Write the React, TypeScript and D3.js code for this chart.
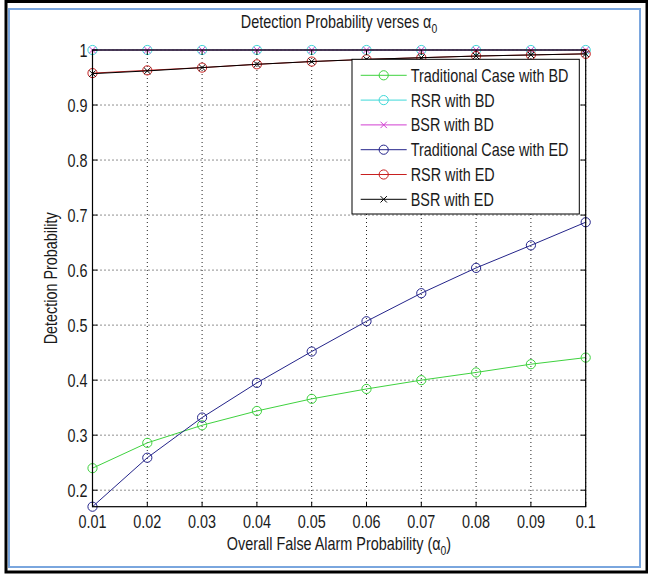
import React from "react";
import * as d3 from "d3";

const alphaValues = [0.01, 0.02, 0.03, 0.04, 0.05, 0.06, 0.07, 0.08, 0.09, 0.1];
const tradBD = [0.24, 0.286, 0.318, 0.344, 0.366, 0.384, 0.4, 0.414, 0.429, 0.441];
const rsrBD = [1, 1, 1, 1, 1, 1, 1, 1, 1, 1];
const bsrBD = [1, 1, 1, 1, 1, 1, 1, 1, 1, 1];
const tradED = [0.17, 0.259, 0.332, 0.395, 0.452, 0.507, 0.558, 0.604, 0.645, 0.687];
const rsrED = [0.958, 0.963, 0.968, 0.974, 0.979, 0.983, 0.986, 0.989, 0.991, 0.993];
const bsrED = [0.957, 0.962, 0.968, 0.974, 0.979, 0.983, 0.986, 0.989, 0.991, 0.993];

const xTicks = [0.01, 0.02, 0.03, 0.04, 0.05, 0.06, 0.07, 0.08, 0.09, 0.1];
const xTickLabels = ["0.01", "0.02", "0.03", "0.04", "0.05", "0.06", "0.07", "0.08", "0.09", "0.1"];
const yTicks = [0.2, 0.3, 0.4, 0.5, 0.6, 0.7, 0.8, 0.9, 1];
const yTickLabels = ["0.2", "0.3", "0.4", "0.5", "0.6", "0.7", "0.8", "0.9", "1"];

const seriesNames = [
  "Traditional Case with BD",
  "RSR with BD",
  "BSR with BD",
  "Traditional Case with ED",
  "RSR with ED",
  "BSR with ED",
];
const seriesData = [tradBD, rsrBD, bsrBD, tradED, rsrED, bsrED];
const seriesColors = ["#3fd23f", "#3fd8d8", "#d23fd2", "#24248a", "#c82020", "#000000"];
const seriesMarkers = ["o", "o", "x", "o", "o", "x"];

const FONT = "'Liberation Sans', Arial, sans-serif";
const SX = 0.8;

const W = 648;
const H = 574;
const L = 92.5;
const R = 585.7;
const T = 50;
const B = 506.7;

function NText({
  x,
  y,
  rotate = 0,
  anchor = "start",
  size = 18,
  children,
}: {
  x: number;
  y: number;
  rotate?: number;
  anchor?: string;
  size?: number;
  children: React.ReactNode;
}) {
  return (
    <text
      transform={`translate(${x},${y}) rotate(${rotate}) scale(${SX},1)`}
      fontSize={size}
      textAnchor={anchor as any}
      fill="#1a1a1a"
    >
      {children}
    </text>
  );
}

function Marker({ type, x, y, color }: { type: string; x: number; y: number; color: string }) {
  if (type === "o") {
    return <circle cx={x} cy={y} r={4.6} fill="none" stroke={color} strokeWidth={1} />;
  }
  const s = 3.2;
  return (
    <path
      d={`M${x - s},${y - s}L${x + s},${y + s}M${x - s},${y + s}L${x + s},${y - s}`}
      stroke={color}
      strokeWidth={1}
      fill="none"
    />
  );
}

export default function App() {
  const x = d3.scaleLinear().domain([0.01, 0.1]).range([L, R]);
  const y = d3.scaleLinear().domain([0.17, 1]).range([B, T]);
  const line = d3
    .line<number>()
    .x((_, i) => x(alphaValues[i]))
    .y((d) => y(d));

  const legX = 352;
  const legY = 59.3;
  const legW = 227.3;
  const legH = 154.7;
  const legStep = 24.8;

  return (
    <svg
      width={W}
      height={H}
      style={{ position: "absolute", left: 0, top: 0, background: "#fff" }}
      fontFamily={FONT}
    >
      <rect x={0} y={0} width={W} height={H} fill="#fff" />
      {/* frames */}
      <rect x={6} y={1.5} width={641} height={570.5} fill="none" stroke="#000" strokeWidth={3} />
      <rect x={9} y={9} width={631} height={558} fill="none" stroke="#7aa6de" strokeWidth={2} />

      {/* grid */}
      {xTicks.map((t, i) => (
        <line key={"gx" + i} x1={x(t)} x2={x(t)} y1={T} y2={B} stroke="#222" strokeWidth={1} strokeDasharray="1 3" />
      ))}
      {yTicks.map((t, i) => (
        <line key={"gy" + i} x1={L} x2={R} y1={y(t)} y2={y(t)} stroke="#222" strokeWidth={1} strokeDasharray="1 3" />
      ))}

      {/* series */}
      {seriesData.map((d, si) => (
        <g key={"s" + si}>
          <path d={line(d) || ""} fill="none" stroke={seriesColors[si]} strokeWidth={1} />
          {d.map((v, i) => (
            <Marker key={i} type={seriesMarkers[si]} x={x(alphaValues[i])} y={y(v)} color={seriesColors[si]} />
          ))}
        </g>
      ))}

      {/* axes box */}
      <rect x={L} y={T} width={R - L} height={B - T} fill="none" stroke="#000" strokeWidth={1.2} />
      {xTicks.map((t, i) => (
        <g key={"tx" + i}>
          <line x1={x(t)} x2={x(t)} y1={B} y2={B - 5} stroke="#000" />
          <line x1={x(t)} x2={x(t)} y1={T} y2={T + 5} stroke="#000" />
          <NText x={x(t)} y={B + 21} anchor="middle">
            {xTickLabels[i]}
          </NText>
        </g>
      ))}
      {yTicks.map((t, i) => (
        <g key={"ty" + i}>
          <line x1={L} x2={L + 5} y1={y(t)} y2={y(t)} stroke="#000" />
          <line x1={R} x2={R - 5} y1={y(t)} y2={y(t)} stroke="#000" />
          <NText x={L - 5} y={y(t) + 6.5} anchor="end">
            {yTickLabels[i]}
          </NText>
        </g>
      ))}

      {/* legend */}
      <rect x={legX} y={legY} width={legW} height={legH} fill="#fff" stroke="#000" strokeWidth={1} />
      {seriesNames.map((n, i) => {
        const ly = legY + 16 + i * legStep;
        return (
          <g key={"l" + i}>
            <line x1={legX + 8.7} x2={legX + 54.7} y1={ly} y2={ly} stroke={seriesColors[i]} strokeWidth={1} />
            <Marker type={seriesMarkers[i]} x={legX + 31.7} y={ly} color={seriesColors[i]} />
            <NText x={legX + 58.7} y={ly + 6.5}>
              {n}
            </NText>
          </g>
        );
      })}

      {/* title */}
      <NText x={339} y={28} anchor="middle">
        Detection Probability verses α
        <tspan fontSize={13} dy={5}>0</tspan>
      </NText>
      {/* x label */}
      <NText x={339} y={550} anchor="middle">
        Overall False Alarm Probability (α
        <tspan fontSize={13} dy={5}>0</tspan>
        <tspan dy={-5}>)</tspan>
      </NText>
      {/* y label */}
      <NText x={57} y={(T + B) / 2} rotate={-90} anchor="middle">
        Detection Probability
      </NText>
    </svg>
  );
}
